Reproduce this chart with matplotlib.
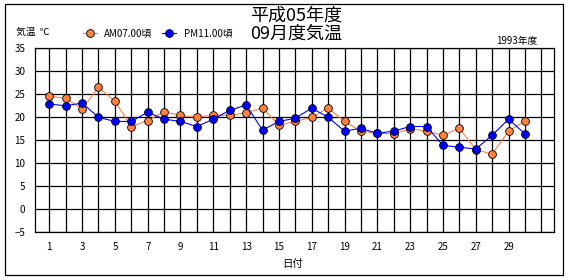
import matplotlib
matplotlib.use("Agg")
import matplotlib.pyplot as plt
from matplotlib.patches import Rectangle

plt.rcParams['font.family'] = ['Noto Sans CJK JP', 'DejaVu Sans']

days = list(range(1, 31))
am07 = [24.6, 24.1, 21.9, 26.5, 23.5, 18.0, 19.3, 21.2, 20.4, 20.0,
        20.5, 20.4, 21.0, 22.0, 18.3, 19.1, 20.0, 22.0, 19.1, 17.0,
        16.5, 16.4, 17.5, 17.0, 16.1, 17.6, 13.0, 12.0, 17.0, 19.2]
pm11 = [22.9, 22.5, 23.1, 20.0, 19.1, 19.1, 21.1, 19.6, 19.1, 18.0,
        19.6, 21.5, 22.7, 17.2, 19.1, 19.8, 22.0, 20.0, 17.0, 17.6,
        16.5, 17.0, 18.0, 18.0, 13.9, 13.5, 13.1, 16.1, 19.6, 16.4]
xticks = list(range(1, 30, 2))
yticks = list(range(-5, 36, 5))
series_names = ["AM07.00頃", "PM11.00頃"]
title = "平成05年度\n09月度気温"

W, H = 570, 280
fig = plt.figure(figsize=(W / 100, H / 100), dpi=100)
ax = fig.add_axes([35 / W, 1 - 232.3 / H, (554 - 35) / W, (232.3 - 48.3) / H])

ax.plot(days, am07, color='#FF8040', lw=0.8, marker='o', ms=5.6,
        mfc='#FF8040', mec='black', mew=0.6, label=series_names[0], zorder=3)
ax.plot(days, pm11, color='#0000FF', lw=0.8, marker='o', ms=5.6,
        mfc='#0000FF', mec='black', mew=0.6, label=series_names[1], zorder=4)

ax.set_xlim(0.13, 31.77)
ax.set_ylim(-5, 35)
ax.set_xticks(range(1, 32), minor=True)
ax.set_xticks(xticks)
ax.set_xticklabels([str(v) for v in xticks], fontsize=7)
ax.set_yticks(yticks)
ax.set_yticklabels([str(v).replace('-', '−') for v in yticks], fontsize=7)
ax.tick_params(axis='both', which='both', length=0)
ax.tick_params(axis='x', pad=7)
ax.tick_params(axis='y', pad=7)
ax.grid(True, which='both', axis='x', color='black', lw=0.9)
ax.grid(True, which='major', axis='y', color='black', lw=0.9)
ax.set_axisbelow(True)
for s in ax.spines.values():
    s.set_color('black')
    s.set_linewidth(0.9)

ax.set_xlabel("日付", fontsize=7.5, labelpad=3)
ax.xaxis.set_label_coords(293 / W, 1 - 259 / H, transform=fig.transFigure)

fig.text(296 / W, 1 - 25 / H, title, ha='center', va='center', fontsize=13,
         linespacing=1.0)
fig.text(16 / W, 1 - 32 / H, "気温  ℃", ha='left', va='center', fontsize=7)
fig.text(537 / W, 1 - 41 / H, "1993年度", ha='right', va='center', fontsize=7)

leg = fig.legend(loc='center left', bbox_to_anchor=(83 / W, 1 - 33 / H),
                 ncol=2, frameon=False, fontsize=7, numpoints=1,
                 handlelength=1.4, handletextpad=0.8, columnspacing=1.0,
                 borderpad=0, borderaxespad=0)

fig.patches.append(Rectangle((5 / W, 1 - 275 / H), (563 - 5) / W, (275 - 4) / H,
                             transform=fig.transFigure, fill=False,
                             edgecolor='black', lw=0.9))

fig.savefig("out.png", dpi=100)
